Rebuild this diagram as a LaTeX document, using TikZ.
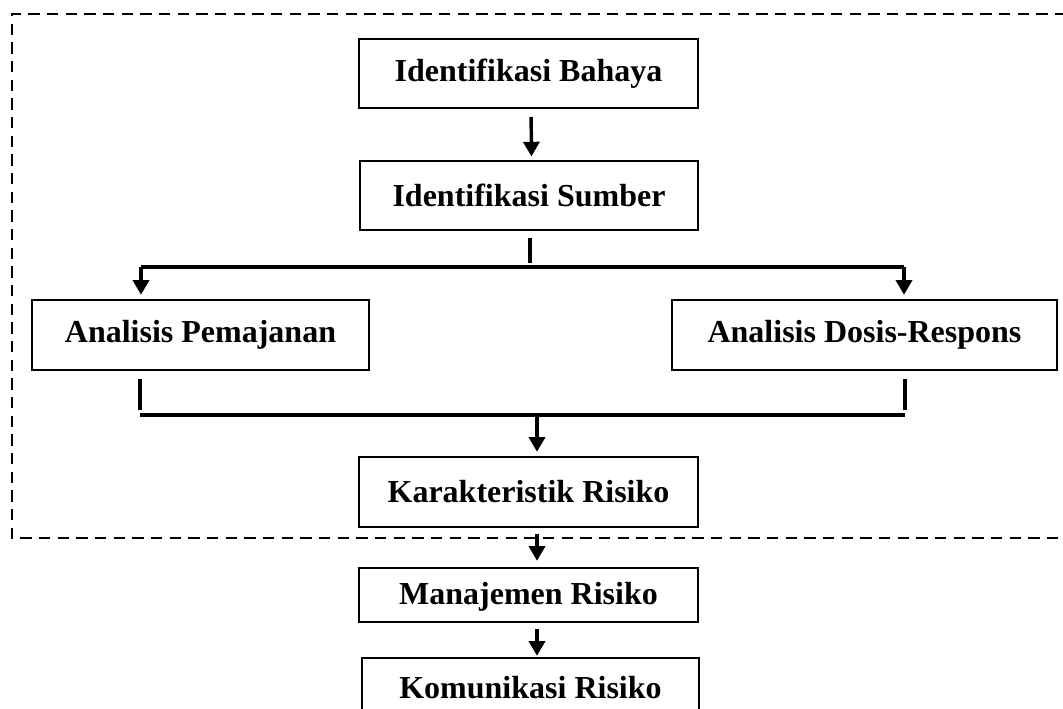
\documentclass[tikz,border=0pt]{standalone}
\usepackage{fontspec}
\setmainfont{Liberation Serif}
\usetikzlibrary{arrows.meta}
\begin{document}
\begin{tikzpicture}[x=0.75pt,y=-0.75pt,
 box/.style={draw,line width=1.8pt,inner sep=0pt,align=center,font=\fontsize{24}{28}\selectfont\bfseries},
 conn/.style={line width=3pt},
 arr/.style={line width=2.6pt,-{Triangle[width=12pt,length=11pt]}},
 frame/.style={line width=2.2pt,dash pattern=on 8.5pt off 5.5pt}]
\useasboundingbox (0,0) rectangle (1063,709);
% dashed frame
\draw[frame] (1085,14) -- (12,14) -- (12,538) -- (1085,538);
% boxes
\node[box,minimum width=254.25pt,minimum height=51.75pt] (bahaya) at (528.5,73.5) {Identifikasi Bahaya};
\node[box,minimum width=253.5pt,minimum height=51.75pt] (sumber) at (529,195.5) {Identifikasi Sumber};
\node[box,minimum width=252.75pt,minimum height=52.5pt] (pem) at (200.5,335) {Analisis Pemajanan};
\node[box,minimum width=288.75pt,minimum height=52.5pt] (dos) at (864.5,335) {Analisis Dosis-Respons};
\node[box,minimum width=254.25pt,minimum height=52.5pt] (kar) at (528.5,492) {Karakteristik Risiko};
\node[box,minimum width=254.25pt,minimum height=40.5pt,text depth=2pt] (man) at (528.5,595) {Manajemen Risiko};
\node[box,minimum width=252.75pt,minimum height=45pt] (kom) at (530.5,688) {Komunikasi Risiko};
% coordinates
\coordinate (split) at (530,263);
\coordinate (sL) at (141,267);
\coordinate (sR) at (904,267);
\coordinate (jL) at (140,410);
\coordinate (jR) at (905,410);
\coordinate (mL) at (140,415);
\coordinate (mR) at (905,415);
\coordinate (mM) at (537,415);
% connectors
\draw[arr,shorten <=6pt,shorten >=2.5pt] ([xshift=1.9pt]bahaya.south) -- ([xshift=1.9pt]sumber.north);
\draw[conn,shorten <=5pt] (sumber.south -| split) -- (split);
\draw[conn] (sL) -- (sR);
\draw[arr,shorten >=3pt] (sL) -- (sL |- pem.north);
\draw[arr,shorten >=3pt] (sR) -- (sR |- dos.north);
\draw[conn,shorten <=6pt] (pem.south -| jL) -- (jL);
\draw[conn,shorten <=6pt] (dos.south -| jR) -- (jR);
\draw[conn] (mL) -- (mR);
\draw[arr,shorten >=3pt] (mM) -- (mM |- kar.north);
\draw[arr,shorten <=4.5pt,shorten >=4.5pt] (kar.south -| mM) -- (man.north -| mM);
\draw[arr,shorten <=4.5pt,shorten >=0.75pt] (man.south -| mM) -- (kom.north -| mM);
\end{tikzpicture}
\end{document}
